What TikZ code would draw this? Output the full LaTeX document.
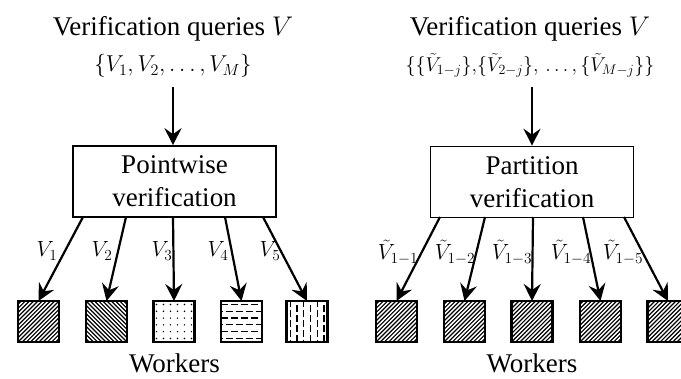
\RequirePackage{fix-cm}
\documentclass[tikz,border=0pt]{standalone}
\usepackage{fontspec}
\setmainfont{Liberation Serif}
\newfontfamily\tnr{Liberation Serif}
\usetikzlibrary{arrows.meta,calc}
\tikzset{
  ttl/.style={font=\tnr\fontsize{27}{31}\selectfont, anchor=base, inner sep=0pt},
  mttl/.style={font=\tnr\fontsize{23}{27}\selectfont, anchor=base, inner sep=0pt},
  vbox/.style={draw, line width=1.6pt, minimum width=203pt, minimum height=71pt,
    align=center, font=\tnr\fontsize{27}{33}\selectfont, inner sep=0pt},
  wk/.style={draw, line width=2.4pt, minimum size=41pt, inner sep=0pt, outer sep=0pt},
  arr/.style={line width=2.2pt, -{Stealth[length=17pt,width=17pt,inset=6pt]}},
  lbl/.style={font=\tnr\fontsize{22}{26}\selectfont, inner sep=0pt},
  wtxt/.style={font=\tnr\fontsize{27}{31}\selectfont, anchor=base, inner sep=0pt},
}
\newcommand\hatchNE[1]{%
  \begin{scope}
    \clip (#1.south west) rectangle (#1.north east);
    \foreach \k in {-12,...,12}
      \draw[line width=1.2pt] ($(#1.center)+(\k*4.2-25,25)$) -- ++(50,-50);
  \end{scope}
  \draw[line width=2.4pt] (#1.south west) rectangle (#1.north east);}
\newcommand\hatchNW[1]{%
  \begin{scope}
    \clip (#1.south west) rectangle (#1.north east);
    \foreach \k in {-12,...,12}
      \draw[line width=1.2pt] ($(#1.center)+(\k*4.2-25,-25)$) -- ++(50,50);
  \end{scope}
  \draw[line width=2.4pt] (#1.south west) rectangle (#1.north east);}
\newcommand\dotpat[1]{%
  \foreach \i in {0,...,5}
    \foreach \j in {0,...,5}
      \fill ($(#1.center)+(-17.5+7*\i,-17+6.8*\j)$) circle (0.8pt);}
\newcommand\hdashpat[1]{%
  \begin{scope}
    \clip (#1.south west) rectangle (#1.north east);
    \foreach \j in {0,...,5}{
      \pgfmathsetmacro\lw{ifthenelse(mod(\j,2)==0,1.6,0.8)}
      \pgfmathsetmacro\off{ifthenelse(mod(\j,2)==0,0,5)}
      \draw[line width=\lw pt, dash pattern=on 7pt off 3pt, dash phase=\off pt]
        ($(#1.center)+(-21,-17+6.8*\j)$) -- ++(42,0);}
  \end{scope}
  \draw[line width=2.4pt] (#1.south west) rectangle (#1.north east);}
\newcommand\vdashpat[1]{%
  \begin{scope}
    \clip (#1.south west) rectangle (#1.north east);
    \foreach \j in {0,...,5}{
      \pgfmathsetmacro\lw{ifthenelse(mod(\j,2)==1,1.6,0.8)}
      \pgfmathsetmacro\off{ifthenelse(mod(\j,2)==0,0,5)}
      \draw[line width=\lw pt, dash pattern=on 7pt off 3pt, dash phase=\off pt]
        ($(#1.center)+(-17+6.8*\j,-21)$) -- ++(0,42);}
  \end{scope}
  \draw[line width=2.4pt] (#1.south west) rectangle (#1.north east);}
\begin{document}
\begin{tikzpicture}[x=1pt,y=-1pt]
\useasboundingbox (0,0) rectangle (681,379);
% ---------- left panel ----------
\node[ttl] (t1L) at (173,36) {Verification queries $V$};
\node[mttl] (t2L) at (173,72) {$\{V_1,V_2,\dots,V_M\}$};
\node[vbox] (bL) at (174.5,181.5) {Pointwise\\verification};
\coordinate (aL) at (173,87);
\draw[arr] (aL) -- (aL |- bL.north);
\foreach \n/\x in {1/38.5,2/106.5,3/174,4/241.5,5/307}
  \node[wk] (L\n) at (\x,321.5) {};
\hatchNE{L1}
\hatchNW{L2}
\dotpat{L3}
\hdashpat{L4}
\vdashpat{L5}
\foreach \n/\x in {1/83,2/126,3/173,4/225,5/263}{
  \coordinate (sL\n) at (\x,217);
  \draw[arr] (sL\n) -- (L\n.north);}
\node[lbl] at (47,251) {$V_1$};
\node[lbl] at (102,251) {$V_2$};
\node[lbl] at (162,251) {$V_3$};
\node[lbl] at (218,251) {$V_4$};
\node[lbl] at (270,251) {$V_5$};
\node[wtxt] (wL) at (174.5,373) {Workers};
% ---------- right panel ----------
\node[ttl] (t1R) at (530,36) {Verification queries $V$};
\node[mttl, font=\tnr\fontsize{20}{24}\selectfont] (t2R) at (530,72) {$\bigl\{\{\tilde V_{1-j}\}{,}\{\tilde V_{2-j}\}{,}\,\dots{,}\,\{\tilde V_{M-j}\}\bigr\}$};
\node[vbox] (bR) at (532,182) {Partition\\verification};
\coordinate (aR) at (532,87);
\draw[arr] (aR) -- (aR |- bR.north);
\foreach \n/\x in {1/396.5,2/464.5,3/532,4/600.5,5/668}{
  \node[wk] (R\n) at (\x,321.5) {};
  \hatchNE{R\n}}
\foreach \n/\x in {1/440,2/485,3/533,4/583,5/624}{
  \coordinate (sR\n) at (\x,217);
  \draw[arr] (sR\n) -- (R\n.north);}
\node[lbl] at (398,252) {$\tilde V_{1-1}$};
\node[lbl] at (455,252) {$\tilde V_{1-2}$};
\node[lbl] at (512,252) {$\tilde V_{1-3}$};
\node[lbl] at (571,252) {$\tilde V_{1-4}$};
\node[lbl] at (623,252) {$\tilde V_{1-5}$};
\node[wtxt] (wR) at (532,373) {Workers};
\end{tikzpicture}
\end{document}
